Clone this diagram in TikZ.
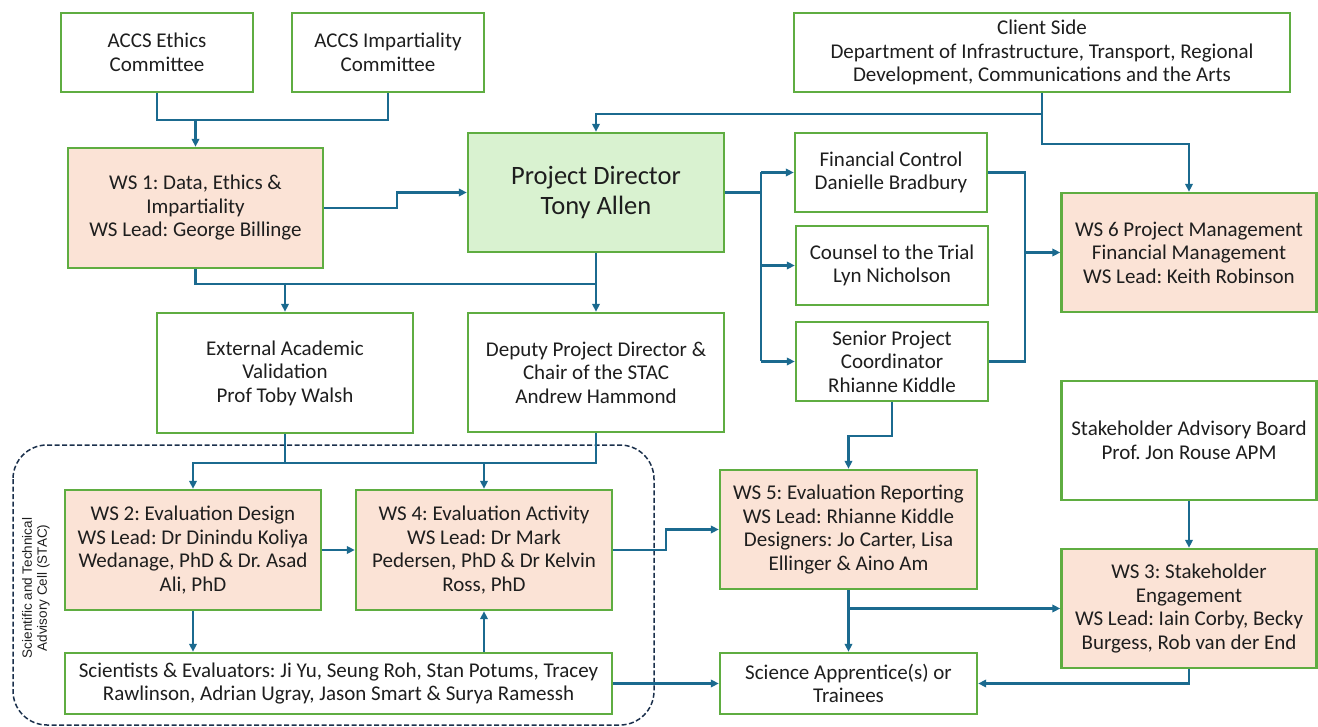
\documentclass[tikz,border=0pt]{standalone}
\usepackage{fontspec}
\setmainfont{Carlito}
\newfontfamily\stacfont{Liberation Sans}
\usetikzlibrary{arrows.meta}
\frenchspacing
\definecolor{bgreen}{HTML}{5FAD41}
\definecolor{lnblue}{HTML}{1B6A8F}
\definecolor{salmon}{HTML}{FBE3D6}
\definecolor{lgreen}{HTML}{D9F2D0}
\definecolor{navy}{HTML}{1A2F4B}
\definecolor{txt}{HTML}{1E1E1E}
\tikzset{
  box/.style={draw=bgreen, line width=2.4pt, fill=white, align=center, inner sep=2pt, text=txt,
    font=\fontsize{21}{23.5}\selectfont},
  ws/.style={box, fill=salmon},
  conn/.style={draw=lnblue, line width=2.2pt},
  arr/.style={conn, -{Triangle[length=8pt,width=7.5pt]}},
}
\begin{document}
\begin{tikzpicture}[x=1pt,y=-1pt]
\useasboundingbox (0,0) rectangle (1318,727);
% top row
\node[box, minimum width=192, minimum height=79] (eth) at (157,52.5) {ACCS Ethics\\Committee};
\node[box, minimum width=192, minimum height=79] (imp) at (388,52.5) {ACCS Impartiality\\Committee};
\node[box, minimum width=496, minimum height=79] (cli) at (1042,52.5) {Client Side\\Department of Infrastructure, Transport, Regional\\Development, Communications and the Arts};
% second row
\node[ws, minimum width=255, minimum height=120] (ws1) at (195.5,208) {WS 1: Data, Ethics \&\\Impartiality\\WS Lead: George Billinge};
\node[box, fill=lgreen, minimum width=256, minimum height=119, font=\fontsize{26.5}{30}\selectfont] (pd) at (596,192.5) {Project Director\\Tony Allen};
\node[box, minimum width=192, minimum height=79] (fin) at (891,172.5) {Financial Control\\Danielle Bradbury};
\node[box, minimum width=192, minimum height=79] (cou) at (892,265.5) {Counsel to the Trial\\Lyn Nicholson};
\node[box, minimum width=192, minimum height=79] (sen) at (892,361.5) {Senior Project\\Coordinator\\Rhianne Kiddle};
\node[ws, minimum width=255, minimum height=119] (ws6) at (1189,252.5) {WS 6 Project Management\\Financial Management\\WS Lead: Keith Robinson};
% third row
\node[box, minimum width=256, minimum height=120] (ext) at (285,373) {External Academic\\Validation\\Prof Toby Walsh};
\node[box, minimum width=256, minimum height=119] (dep) at (596,372.5) {Deputy Project Director \&\\Chair of the STAC\\Andrew Hammond};
\node[box, minimum width=255, minimum height=119] (sab) at (1189,440.5) {Stakeholder Advisory Board\\Prof. Jon Rouse APM};
% fourth row
\node[ws, minimum width=256, minimum height=120] (ws2) at (193,550) {WS 2: Evaluation Design\\WS Lead: Dr Dinindu Koliya\\Wedanage, PhD \& Dr. Asad\\Ali, PhD};
\node[ws, minimum width=256, minimum height=120] (ws4) at (484,550) {WS 4: Evaluation Activity\\WS Lead: Dr Mark\\Pedersen, PhD \& Dr Kelvin\\Ross, PhD};
\node[ws, minimum width=257, minimum height=119] (ws5) at (848.5,529.5) {WS 5: Evaluation Reporting\\WS Lead: Rhianne Kiddle\\Designers: Jo Carter, Lisa\\Ellinger \& Aino Am};
\node[ws, minimum width=255, minimum height=119] (ws3) at (1189,608.5) {WS 3: Stakeholder\\Engagement\\WS Lead: Iain Corby, Becky\\Burgess, Rob van der End};
% bottom row
\node[box, minimum width=547, minimum height=61] (sct) at (338.5,683.5) {Scientists \& Evaluators: Ji Yu, Seung Roh, Stan Potums, Tracey\\Rawlinson, Adrian Ugray, Jason Smart \& Surya Ramessh};
\node[box, minimum width=257, minimum height=61] (app) at (848.5,683.5) {Science Apprentice(s) or\\Trainees};
% STAC cell
\draw[navy, line width=1.5pt, dash pattern=on 5pt off 2.5pt, rounded corners=34pt] (13,445) rectangle (654,725);
\node[rotate=90, align=center, text=txt, font=\stacfont\fontsize{13.5}{15}\selectfont] (stac) at (36,588) {Scientific and Technical\\Advisory Cell (STAC)};
% connectors
\coordinate (j1) at (195.5,120);
\draw[conn] (eth.south) |- (j1);
\draw[conn] (imp.south) |- (j1);
\draw[arr] (j1) -- (ws1.north);
\draw[arr] (ws1.east) -- ++(73,0) |- (pd.west);
\draw[conn] (ws1.south) -- ++(0,15) -| (pd.south);
\draw[arr] (pd.south) -- (dep.north);
\coordinate (b1) at (285,283);
\draw[arr] (b1) -- (ext.north);
\draw[arr] (cli.south) -- ++(0,21) -| (pd.north);
\draw[arr] (cli.south) -- ++(0,51) -| (ws6.north);
\draw[conn] (pd.east) -- ++(36,0) coordinate (pb);
\draw[conn] (pb |- fin.west) -- (pb |- sen.west);
\draw[arr] (pb |- fin.west) -- (fin.west);
\draw[arr] (pb |- cou.west) -- (cou.west);
\draw[arr] (pb |- sen.west) -- (sen.west);
\draw[conn] (fin.east) -- ++(37,0) coordinate (rb) |- (sen.east);
\draw[arr] (rb |- ws6.west) -- (ws6.west);
\draw[arr] (sen.south) -- ++(0,34) -| (ws5.north);
\draw[conn] (ext.south) -- ++(0,29) coordinate (e1);
\draw[arr] (e1) -| (ws2.north);
\draw[arr] (e1) -| (ws4.north);
\draw[conn] (dep.south) |- (ws4.north |- e1);
\draw[arr] (ws2.east) -- (ws4.west);
\draw[arr] (ws2.south) -- (ws2.south |- sct.north);
\draw[arr] (sct.north -| ws4.south) -- (ws4.south);
\draw[arr] (sct.east) -- (app.west);
\draw[arr] (ws4.east) -- ++(53,0) |- (ws5.west);
\draw[arr] (ws5.south) -- (app.north);
\draw[arr] (ws5.south |- ws3.west) -- (ws3.west);
\draw[arr] (sab.south) -- (ws3.north);
\draw[arr] (ws3.south) |- (app.east);
\end{tikzpicture}
\end{document}
